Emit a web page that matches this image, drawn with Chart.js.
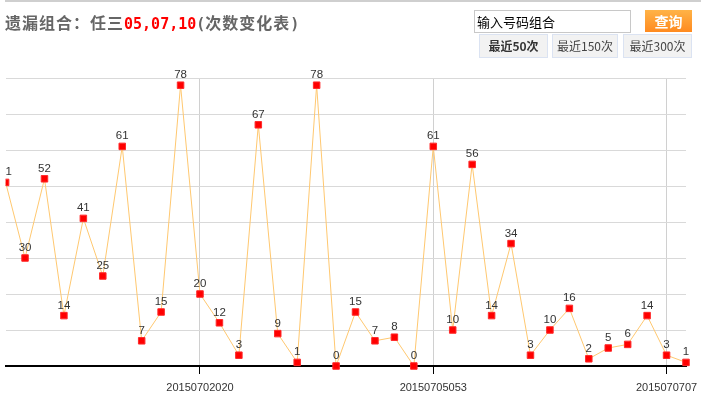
<!DOCTYPE html>
<html>
<head>
<meta charset="utf-8">
<script src="https://cdn.jsdelivr.net/npm/chart.js@4.4.1/dist/chart.umd.min.js"></script>
<style>
  html,body{margin:0;padding:0;background:#fff;}
  #wrap{position:relative;width:701px;height:406px;overflow:hidden;font-family:"Noto Sans CJK SC",Arial,sans-serif;}
  #cv{position:absolute;left:0;top:0;}
  .bar{position:absolute;left:5px;top:0;width:696px;height:2px;background:#cfcfcf;}
  .title{position:absolute;left:5px;top:11px;font-size:16px;font-weight:bold;color:#666;white-space:nowrap;line-height:22px;letter-spacing:1px;}
  .title .m{font-family:"DejaVu Sans Mono","Liberation Mono",monospace;font-size:15px;letter-spacing:0;}
  .title .red{color:#f00;}
  .inp{position:absolute;left:474px;top:10px;width:157px;height:23px;border:1px solid #c8c8c8;box-sizing:border-box;font-size:13px;line-height:21px;padding-left:2px;color:#000;}
  .btn{position:absolute;left:645px;top:10px;width:47px;height:22px;background:linear-gradient(#ffb347,#ff8a1f);color:#fff;font-weight:bold;font-size:14px;text-align:center;line-height:22px;}
  .tab{position:absolute;top:34px;height:24px;background:#f2f2f2;border:1px solid #dbe3f2;box-sizing:border-box;font-size:12px;line-height:22px;text-align:center;color:#444;}
</style>
</head>
<body>
<div id="wrap">
  <canvas id="cv" width="701" height="406"></canvas>
  <div class="bar"></div>
  <div class="title">遗漏组合：任三<span class="m red">05,07,10</span><span class="m">(</span>次数变化表<span class="m">)</span></div>
  <div class="inp">输入号码组合</div>
  <div class="btn">查询</div>
  <div class="tab" style="left:479px;width:69px;font-weight:bold;color:#333;">最近50次</div>
  <div class="tab" style="left:552px;width:66px;">最近150次</div>
  <div class="tab" style="left:623px;width:69px;">最近300次</div>
</div>
<script>
// ---- data ----
const missValues = [51, 30, 52, 14, 41, 25, 61, 7, 15, 78, 20, 12, 3, 67, 9, 1, 78, 0, 15, 7, 8, 0, 61, 10, 56, 14, 34, 3, 10, 16, 2, 5, 6, 14, 3, 1];
const tickLabels = ['', '', '', '', '', '', '', '', '', '', '20150702020', '', '', '', '', '', '', '', '', '', '', '', '20150705053', '', '', '', '', '', '', '', '', '', '', '', '2015070707', ''];
const yMin = 0, yMax = 80, yStep = 10;

const pointLabelPlugin = {
  id: 'pointLabels',
  afterDatasetsDraw(chart) {
    const ctx = chart.ctx;
    const meta = chart.getDatasetMeta(0);
    const area = chart.chartArea;
    ctx.save();
    ctx.beginPath();
    ctx.rect(area.left, 0, chart.width - area.left, chart.height);
    ctx.clip();
    ctx.font = '11.5px Arial, "Liberation Sans", sans-serif';
    ctx.fillStyle = '#333';
    ctx.textAlign = 'center';
    ctx.textBaseline = 'alphabetic';
    meta.data.forEach((pt, i) => {
      ctx.fillText(String(missValues[i]), pt.x, pt.y - 7);
    });
    ctx.restore();
  }
};

new Chart(document.getElementById('cv'), {
  type: 'line',
  data: {
    labels: tickLabels,
    datasets: [{
      data: missValues,
      borderColor: '#ffc870',
      borderWidth: 1,
      tension: 0,
      pointStyle: 'rect',
      pointRadius: 4.6,
      pointBackgroundColor: '#ff0000',
      pointBorderColor: '#ff2a2a',
      pointBorderWidth: 1,
      clip: {left: 0, top: 20, right: 20, bottom: 20}
    }]
  },
  options: {
    responsive: false,
    animation: false,
    devicePixelRatio: 1,
    layout: {padding: {top: 78, left: 5, right: 15, bottom: 0}},
    plugins: {legend: {display: false}, tooltip: {enabled: false}},
    scales: {
      x: {
        offset: false,
        afterFit(scale) { scale.height = 40; scale.paddingLeft = 0; scale.paddingRight = 0; },
        border: {display: true, color: '#000', width: 2},
        grid: {
          color: c => (c.tick && c.tick.label) ? '#d0d0d0' : 'rgba(0,0,0,0)',
          tickColor: c => (c.tick && c.tick.label) ? '#000' : 'rgba(0,0,0,0)',
          tickLength: 8,
          lineWidth: 1
        },
        ticks: {
          autoSkip: false,
          maxRotation: 0,
          minRotation: 0,
          padding: 7,
          color: '#333',
          font: {family: 'Arial, "Liberation Sans", sans-serif', size: 11}
        }
      },
      y: {
        min: yMin,
        max: yMax,
        border: {display: false},
        grid: {color: '#d9d9d9', drawTicks: false, lineWidth: 1},
        ticks: {display: false, stepSize: yStep}
      }
    }
  },
  plugins: [pointLabelPlugin]
});
</script>
</body>
</html>
